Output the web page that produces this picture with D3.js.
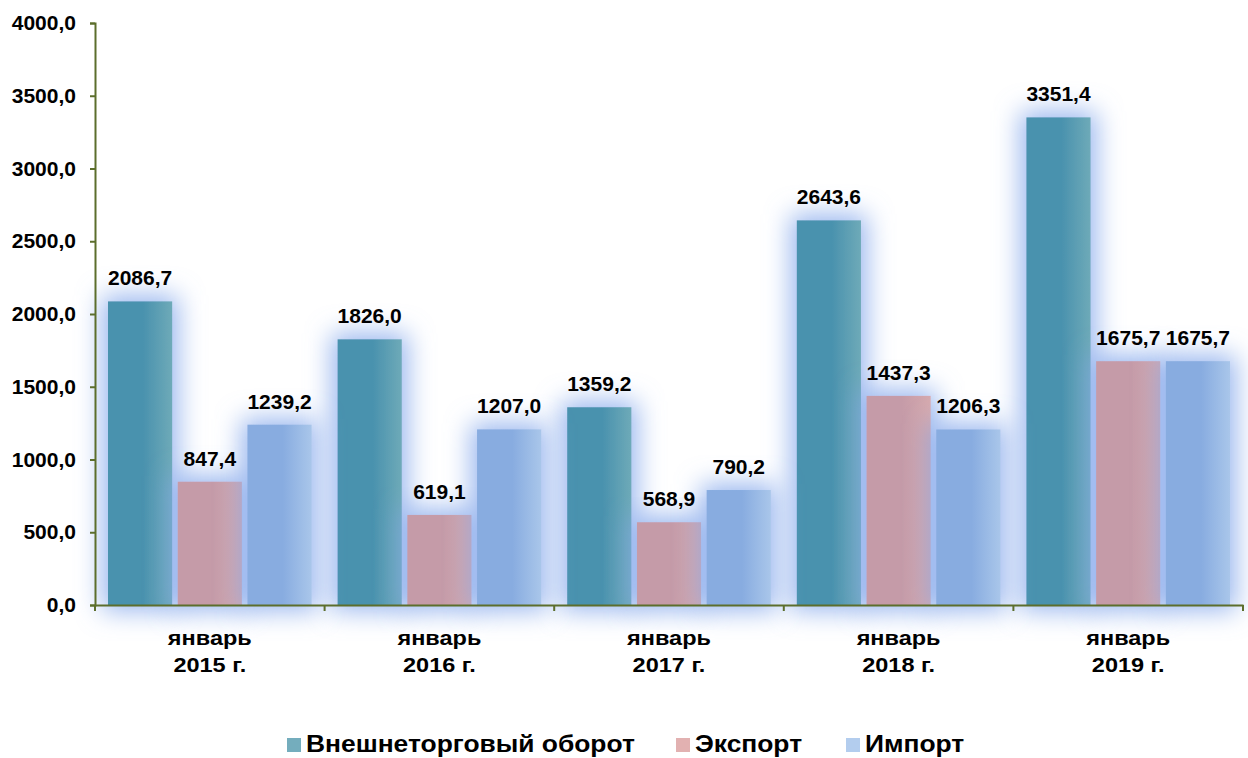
<!DOCTYPE html>
<html>
<head>
<meta charset="utf-8">
<script src="https://cdn.jsdelivr.net/npm/d3@7"></script>
<style>
  body { margin: 0; background: #fff; }
  text { font-family: "Liberation Sans", Arial, sans-serif; font-weight: bold; fill: #000; }
</style>
</head>
<body>
<div id="chart"></div>
<script>
// Chart data
const categories = ["январь|2015 г.", "январь|2016 г.", "январь|2017 г.", "январь|2018 г.", "январь|2019 г."];
const seriesNames = ["Внешнеторговый оборот", "Экспорт", "Импорт"];
const turnover = [2086.7, 1826.0, 1359.2, 2643.6, 3351.4];
const exportValues = [847.4, 619.1, 568.9, 1437.3, 1675.7];
const importValues = [1239.2, 1207.0, 790.2, 1206.3, 1675.7];
const yTicks = [0, 500, 1000, 1500, 2000, 2500, 3000, 3500, 4000];

const seriesValues = [turnover, exportValues, importValues];
const colors = [["#4a92ae", "#6eaab8"], ["#c59ba8", "#d6aaae"], ["#88ace0", "#a9c6ea"]];
const legendColors = ["#74adbd", "#e2b1b1", "#b3cdee"];

// Set up the dimensions
const width = 1248, height = 758;
const margin = {top: 23, right: 5, bottom: 153, left: 95};
const innerW = width - margin.left - margin.right;
const innerH = height - margin.top - margin.bottom;
const fmt = d => d3.format(".1f")(d).replace(".", ",");

const svg = d3.select("#chart")
    .append("svg")
    .attr("width", width)
    .attr("height", height);

const defs = svg.append("defs");

// Gradient for each series
colors.forEach((c, i) => {
    const g = defs.append("linearGradient")
        .attr("id", "grad" + i)
        .attr("x1", "0%").attr("x2", "100%").attr("y1", "0%").attr("y2", "0%");
    g.append("stop").attr("offset", "0%").attr("stop-color", c[0]);
    g.append("stop").attr("offset", "55%").attr("stop-color", c[0]);
    g.append("stop").attr("offset", "100%").attr("stop-color", c[1]);
});

// Blue glow around the bars
const glow = defs.append("filter")
    .attr("id", "glow")
    .attr("x", "-80%").attr("y", "-30%").attr("width", "260%").attr("height", "160%");
glow.append("feFlood").attr("flood-color", "#80a4ea").attr("flood-opacity", 0.8).attr("result", "flood");
glow.append("feComposite").attr("in", "flood").attr("in2", "SourceAlpha").attr("operator", "in").attr("result", "shape");
glow.append("feMorphology").attr("in", "shape").attr("operator", "dilate").attr("radius", 6).attr("result", "fat");
glow.append("feGaussianBlur").attr("in", "fat").attr("stdDeviation", 13).attr("result", "blur");
const merge = glow.append("feMerge");
merge.append("feMergeNode").attr("in", "blur");
merge.append("feMergeNode").attr("in", "SourceGraphic");

const g = svg.append("g")
    .attr("transform", `translate(${margin.left}, ${margin.top})`);

// Scales
const x = d3.scaleBand()
    .domain(categories)
    .range([0, innerW]);

const x1 = d3.scaleBand()
    .domain(d3.range(seriesNames.length))
    .range([13, x.bandwidth() - 13])
    .paddingInner(0.08);

const y = d3.scaleLinear()
    .domain([0, 4000])
    .range([innerH, 0]);

// Bars
seriesValues.forEach((vals, s) => {
    g.selectAll(".bar" + s)
        .data(vals)
        .enter()
        .append("rect")
        .attr("class", "bar" + s)
        .attr("x", (d, i) => x(categories[i]) + x1(s))
        .attr("y", d => y(d))
        .attr("width", x1.bandwidth())
        .attr("height", d => innerH - y(d))
        .attr("fill", `url(#grad${s})`)
        .attr("filter", "url(#glow)");
});

// Value labels (slightly stretched horizontally like the original)
seriesValues.forEach((vals, s) => {
    g.selectAll(".label" + s)
        .data(vals)
        .enter()
        .append("text")
        .attr("transform", (d, i) => `translate(${x(categories[i]) + x1(s) + x1.bandwidth() / 2}, ${y(d) - 16}) scale(1.05, 1)`)
        .attr("text-anchor", "middle")
        .style("font-size", "20px")
        .text(d => fmt(d));
});

// Y axis
const yAxis = g.append("g")
    .call(d3.axisLeft(y).tickValues(yTicks).tickSize(5).tickPadding(14).tickFormat(fmt));
yAxis.select(".domain").attr("stroke", "#5c6e2c").attr("stroke-width", 2);
yAxis.selectAll(".tick line").attr("stroke", "#5c6e2c").attr("stroke-width", 2);
yAxis.selectAll(".tick text").style("font-size", "21px").attr("fill", "#000");

// X axis
const xAxis = g.append("g")
    .attr("transform", `translate(0, ${innerH})`)
    .call(d3.axisBottom(x).tickSize(0).tickFormat(""));
xAxis.select(".domain").attr("stroke", "#5c6e2c").attr("stroke-width", 2);

// X axis tick marks at the category boundaries
g.selectAll(".xtick")
    .data(categories.concat([null]))
    .enter()
    .append("line")
    .attr("x1", (d, i) => i * x.step())
    .attr("x2", (d, i) => i * x.step())
    .attr("y1", innerH)
    .attr("y2", innerH + 6)
    .attr("stroke", "#5c6e2c")
    .attr("stroke-width", 2);

// Category labels on two lines
const catLabels = g.selectAll(".cat")
    .data(categories)
    .enter()
    .append("text")
    .attr("text-anchor", "middle")
    .attr("transform", d => `translate(${x(d) + x.bandwidth() / 2}, ${innerH + 40}) scale(1.12, 1)`)
    .style("font-size", "21px");
catLabels.each(function(d) {
    const parts = d.split("|");
    d3.select(this).append("tspan").attr("x", 0).text(parts[0]);
    d3.select(this).append("tspan").attr("x", 0).attr("dy", 27).text(parts[1]);
});

// Legend
const legendX = [287, 676, 846];
const legend = svg.selectAll(".legend")
    .data(seriesNames)
    .enter()
    .append("g")
    .attr("class", "legend")
    .attr("transform", (d, i) => `translate(${legendX[i]}, 752)`);

legend.append("rect")
    .attr("x", 0)
    .attr("y", -14)
    .attr("width", 14)
    .attr("height", 14)
    .attr("fill", (d, i) => legendColors[i]);

legend.append("text")
    .attr("transform", "translate(19, 0) scale(1.1, 1)")
    .style("font-size", "24px")
    .text(d => d);
</script>
</body>
</html>
